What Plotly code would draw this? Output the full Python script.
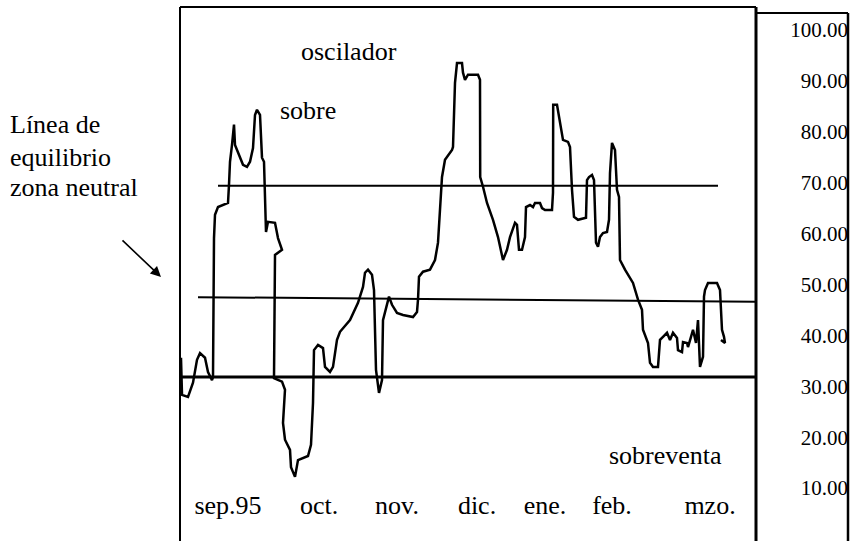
import plotly.graph_objects as go

# Oscillator series (session index, value)
osc_x = [0.25, 0.5, 2, 3.25, 4.25, 5, 6.25, 7, 8, 8.25, 8.5, 8.75, 9.5, 12, 12.25, 12.5, 13, 13.5, 13.75,
         15, 15.75, 16.75, 17.5, 18.25, 18.75, 19.25, 20, 20.5, 21, 21.5, 22, 23.75, 24.5, 25.5, 23.75,
         23.5, 25.5, 26.25, 25.75, 26.25, 27.5, 27.75, 28.75, 29.5, 32, 32.75, 33.25, 33.5, 34.5, 35.75,
         36.25, 37.5, 38.25, 39.25, 40, 42.5, 44.5, 45.75, 46.25, 47, 48, 48.5, 49, 49.75, 50.5, 50.75,
         51.75, 52.25, 53, 54.25, 55.75, 58.25, 59.25, 59.5, 59.75, 60.75, 62.5, 63.75, 64.5, 65, 65.5,
         66.25, 68, 68.25, 68.75, 69.25, 70.5, 70.75, 71.25, 72, 74.5, 75, 75.05, 75.75, 76.75, 78.25,
         79.5, 80.75, 81.75, 82.5, 83.75, 84.25, 84.75, 85.5, 86.25, 86.5, 87.5, 88.25, 88.75, 90, 90.5,
         91.25, 93, 93.25, 93.3, 94.25, 94.75, 95.5, 95.75, 97, 97.5, 98, 98.5, 99.5, 101.5, 101.75,
         102.25, 103, 103.5, 104, 104.5, 105, 105.75, 106.75, 107.25, 107.5, 108, 108.75, 109.25, 109.75,
         110, 111.25, 113.25, 114.5, 115.5, 115.75, 117, 117.5, 118.25, 119.5, 120, 120.75, 121.75, 122.5,
         123.25, 124.25, 124.5, 125.5, 125.75, 126.75, 127, 127.75, 128.25, 129, 129.5, 130, 130.75, 131,
         131.25, 132, 134.25, 135, 135.5, 136, 136.25, 135.25]
osc_y = [35.6, 28.3, 27.9, 30.7, 35.2, 36.5, 35.6, 32.8, 31.2, 31.8, 59.1, 63.7, 65.2, 66.0, 69.6, 74.1,
         77.4, 81.4, 77.4, 75.1, 73.5, 73.1, 74.1, 76.8, 83.3, 84.3, 83.3, 74.9, 74.1, 60.3, 62.3, 62.1,
         59.1, 56.8, 55.8, 31.6, 30.9, 29.3, 22.8, 19.5, 17.5, 14.1, 12.2, 15.5, 16.3, 18.5, 26.7, 37.1,
         38.1, 37.5, 33.8, 32.8, 33.8, 39.1, 40.7, 43.0, 46.4, 49.5, 52.3, 52.9, 51.9, 48.9, 33.2, 28.7,
         31.2, 43.0, 46.4, 47.6, 46.0, 44.4, 44.0, 43.6, 44.6, 47.0, 51.5, 52.5, 52.9, 54.8, 58.2, 66.0,
         71.1, 74.5, 76.4, 77.0, 89.6, 93.5, 93.5, 91.6, 90.2, 91.2, 91.2, 90.2, 71.1, 69.2, 66.0, 62.7,
         59.3, 54.8, 56.8, 59.3, 62.1, 61.7, 56.8, 56.8, 59.3, 65.2, 65.6, 65.2, 66.0, 66.0, 65.0, 64.6,
         64.6, 68.0, 85.3, 85.3, 82.9, 78.8, 78.4, 78.0, 77.0, 68.6, 63.3, 62.7, 63.1, 70.5, 71.1, 71.5,
         70.5, 58.2, 57.4, 59.3, 60.1, 60.3, 62.7, 71.9, 77.8, 76.4, 68.6, 67.2, 54.8, 52.9, 50.3, 47.0,
         45.0, 41.1, 38.5, 34.6, 33.8, 33.8, 39.1, 39.7, 40.5, 39.1, 40.5, 39.5, 37.1, 36.7, 38.7, 38.5,
         37.7, 39.7, 41.1, 38.5, 43.0, 33.8, 35.8, 47.6, 48.9, 50.3, 50.3, 48.9, 41.1, 39.7, 38.5, 39.1]

# Reference levels
upper_x = [9.5, 134.5]
upper_y = [69.4, 69.4]
mid_x = [4.5, 144]
mid_y = [47.5, 46.6]
low_x = [0.25, 144]
low_y = [31.8, 31.8]

# Axis labels
month_pos = [12, 34.75, 54.25, 74.25, 91.25, 108, 132.5]
month_labels = ["sep.95", "oct.", "nov.", "dic.", "ene.", "feb.", "mzo."]
y_ticks = [10, 20, 30, 40, 50, 60, 70, 80, 90, 100]

SERIF = "Liberation Serif, Times New Roman, serif"
W, H = 855, 541
ML, MR, MT, MB = 180, 7, 7, 0
PW = W - ML - MR
PH = H - MT - MB
XD = (756 - ML) / PW


def px(x):
    return (x - ML) / PW


def py(y):
    return (H - MB - y) / PH


fig = go.Figure()
fig.add_trace(go.Scatter(x=upper_x, y=upper_y, mode="lines", line=dict(color="black", width=2),
                         hoverinfo="skip", showlegend=False))
fig.add_trace(go.Scatter(x=mid_x, y=mid_y, mode="lines", line=dict(color="black", width=2),
                         hoverinfo="skip", showlegend=False))
fig.add_trace(go.Scatter(x=low_x, y=low_y, mode="lines", line=dict(color="black", width=3),
                         hoverinfo="skip", showlegend=False))
fig.add_trace(go.Scatter(x=osc_x, y=osc_y, mode="lines", line=dict(color="black", width=2.5),
                         showlegend=False))

shapes = []
def pline(x0, y0, x1, y1, w=2):
    shapes.append(dict(type="line", xref="paper", yref="paper", x0=x0, y0=y0, x1=x1, y1=y1,
                       line=dict(color="black", width=w)))

pline(0, 0, 0, py(7))
pline(0, py(7), XD, py(7))
pline(XD, 0, XD, py(7), 3)
pline(px(757), py(13), 1, py(13))
pline(1, 0, 1, py(13), 2.5)

annotations = []
def txt(s, x, y, xanchor="center", size=26):
    annotations.append(dict(text=s, x=x, y=y, xref="paper", yref="paper", showarrow=False,
                            xanchor=xanchor, yanchor="middle", font=dict(family=SERIF, size=size, color="black")))

txt("oscilador", px(349), py(52))
txt("sobre", px(308), py(110))
txt("sobreventa", px(665), py(455))
txt("Línea de", px(8), py(125), "left")
txt("equilibrio", px(8), py(157), "left")
txt("zona neutral", px(8), py(187), "left")
annotations.append(dict(text="", x=px(161), y=py(277), xref="paper", yref="paper", showarrow=True,
                        ax=-40, ay=-38, arrowhead=2, arrowsize=1.3, arrowwidth=1.6, arrowcolor="black"))

fig.update_layout(
    width=W, height=H,
    margin=dict(l=ML, r=MR, t=MT, b=MB),
    paper_bgcolor="white", plot_bgcolor="white",
    showlegend=False,
    shapes=shapes, annotations=annotations,
    xaxis=dict(domain=[0, XD], range=[0, 144], anchor="free", position=py(487),
               tickmode="array", tickvals=month_pos, ticktext=month_labels,
               showgrid=False, zeroline=False, showline=False, ticks="",
               tickfont=dict(family=SERIF, size=26, color="black"), automargin=False),
    yaxis=dict(range=[-0.4, 104.5], anchor="free", position=1.0, side="left",
               tickmode="array", tickvals=y_ticks, tickformat=".2f",
               showgrid=False, zeroline=False, showline=False, ticks="",
               tickfont=dict(family=SERIF, size=21, color="black"), automargin=False),
)

fig.write_html("out.html", config={"displayModeBar": False},
               post_script="document.body.style.margin='0';document.body.style.overflow='hidden';")
